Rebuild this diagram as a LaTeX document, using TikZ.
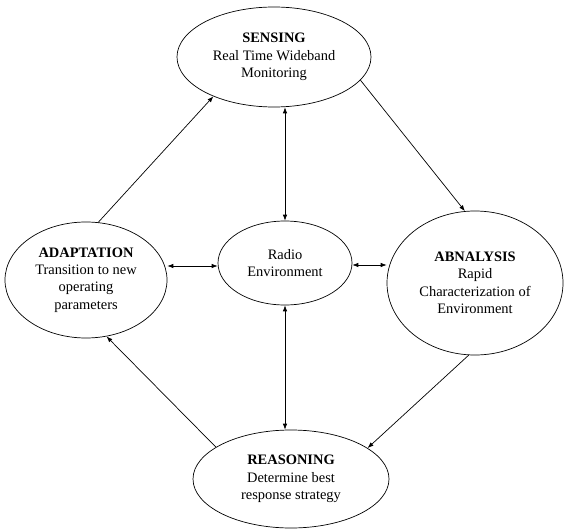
\documentclass[tikz,border=0pt]{standalone}
\usepackage{fontspec}
\setmainfont{Liberation Serif}
\usetikzlibrary{shapes.geometric,arrows.meta}

\begin{document}
\begin{tikzpicture}[x=1bp,y=-1bp,
    stage/.style={ellipse, draw, line width=0.7pt, inner sep=0pt, align=center,
      font=\fontsize{14.5}{17.5}\selectfont},
    flow/.style={line width=0.7pt, -{Latex[length=6pt,width=4.5pt]}},
    link/.style={line width=0.7pt, {Latex[length=6pt,width=4.5pt]}-{Latex[length=6pt,width=4.5pt]}}]
  \useasboundingbox (0,0) rectangle (564,530);

  \node[stage, minimum width=194bp, minimum height=100bp] (sens) at (274,57)
    {\textbf{SENSING}\\Real Time Wideband\\Monitoring};
  \node[stage, minimum width=134bp, minimum height=84bp] (radio) at (285,263)
    {Radio\\Environment};
  \node[stage, minimum width=162bp, minimum height=116bp] (adapt) at (86,280)
    {\textbf{ADAPTATION}\\Transition to new\\operating\\parameters};
  \node[stage, minimum width=176bp, minimum height=144bp] (anal) at (475,283)
    {\textbf{ABNALYSIS}\\Rapid\\Characterization of\\Environment};
  \node[stage, minimum width=196bp, minimum height=98bp] (reas) at (291,479)
    {\textbf{REASONING}\\Determine best\\response strategy};

  % links to the radio environment
  \draw[link] (radio.north) -- (radio.north |- sens.south);
  \draw[link] (radio.south) -- (radio.south |- reas.north);
  \draw[link] ([yshift=-3bp]radio.west) -- ([yshift=-3bp]radio.west -| adapt.east);
  \draw[link] ([yshift=-2bp]radio.east) -- ([yshift=-2bp]radio.east -| anal.west);

  % the cycle
  \draw[flow] (sens.-15) -- (anal.98);
  \draw[flow] (anal.265) -- (reas.22);
  \draw[flow] (reas.157) -- (adapt.290);
  \draw[flow] (adapt.78) -- (sens.213);

\end{tikzpicture}
\end{document}
